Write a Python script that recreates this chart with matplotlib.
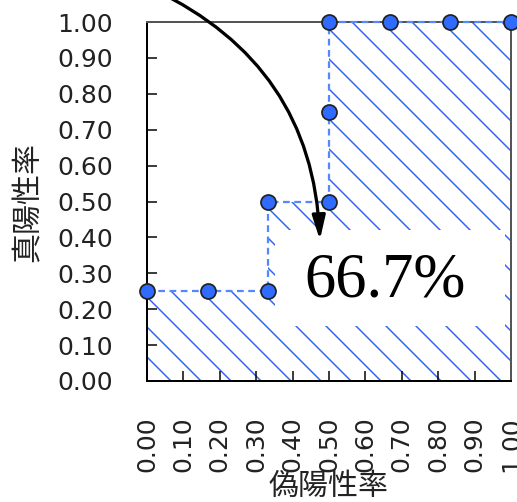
import matplotlib
matplotlib.use('Agg')
import matplotlib.pyplot as plt
from matplotlib.patches import Rectangle

# ROC points (false positive rate, true positive rate)
fpr = [0.0, 1/6, 1/3, 1/3, 1/2, 1/2, 1/2, 2/3, 5/6, 1.0]
tpr = [0.25, 0.25, 0.25, 0.50, 0.50, 0.75, 1.00, 1.00, 1.00, 1.00]
ticks = [0.0, 0.1, 0.2, 0.3, 0.4, 0.5, 0.6, 0.7, 0.8, 0.9, 1.0]
tick_labels = ['%.2f' % t for t in ticks]
auc_text = '66.7%'

plt.rcParams['font.family'] = ['DejaVu Sans', 'Noto Sans CJK JP']
plt.rcParams['hatch.linewidth'] = 0.6
plt.rcParams['hatch.color'] = '#3366ee'

DPI = 180
fig = plt.figure(figsize=(517 / DPI, 502 / DPI), dpi=DPI)
ax = fig.add_axes([147 / 517, 1 - 381 / 502, 364 / 517, 359 / 502])

# hatched area under the curve
ax.fill_between(fpr, tpr, 0, facecolor='none', edgecolor='#3366ee',
                hatch='\\\\', linewidth=0, zorder=1)

# white box for the AUC label
ax.add_patch(Rectangle((0.352, 0.153), 0.632, 0.267, facecolor='white',
                       edgecolor='none', zorder=2))
ax.text(0.654, 0.276, auc_text, fontsize=25, family='Liberation Serif',
        ha='center', va='center', zorder=3)

# step line + points
ax.plot(fpr, tpr, linestyle=(0, (3, 2)), color='#5588ff', linewidth=0.9,
        zorder=4, clip_on=False)
ax.plot(fpr, tpr, linestyle='none', marker='o', markersize=6,
        markerfacecolor='#2f6bff', markeredgecolor='#222222',
        markeredgewidth=0.7, zorder=5, clip_on=False)

# curved arrow coming from top-left
ax.annotate('', xy=(0.475, 0.393), xytext=(0.02, 1.09),
            xycoords='data', textcoords='data', annotation_clip=False,
            arrowprops=dict(arrowstyle='-|>,head_length=0.8,head_width=0.22',
                            connectionstyle='arc3,rad=-0.3',
                            color='black', linewidth=1.3,
                            shrinkA=0, shrinkB=0),
            zorder=6)

ax.set_xlim(0, 1)
ax.set_ylim(0, 1)
ax.set_xticks(ticks)
ax.set_yticks(ticks)
ax.set_xticklabels(tick_labels, rotation=90)
ax.set_yticklabels(tick_labels)
ax.tick_params(direction='in', length=4, width=0.6, labelsize=10,
               labelcolor='#222222', pad=13.6)
ax.tick_params(axis='x', pad=14)

for side in ['left', 'bottom']:
    ax.spines[side].set_linewidth(0.8)
    ax.spines[side].set_color('black')
for side in ['top', 'right']:
    ax.spines[side].set_linewidth(0.8)
    ax.spines[side].set_color('#555555')

ax.set_xlabel('偽陽性率', fontsize=12, family=['Noto Sans CJK JP', 'DejaVu Sans'],
              color='#222222')
ax.set_ylabel('真陽性率', fontsize=12, family=['Noto Sans CJK JP', 'DejaVu Sans'],
              color='#222222')
ax.xaxis.set_label_coords(0.5, -0.295)
ax.xaxis.label.set_va('center')
ax.yaxis.set_label_coords(-0.327, 0.5)
ax.yaxis.label.set_va('center')

fig.savefig('out.png', dpi=DPI)
